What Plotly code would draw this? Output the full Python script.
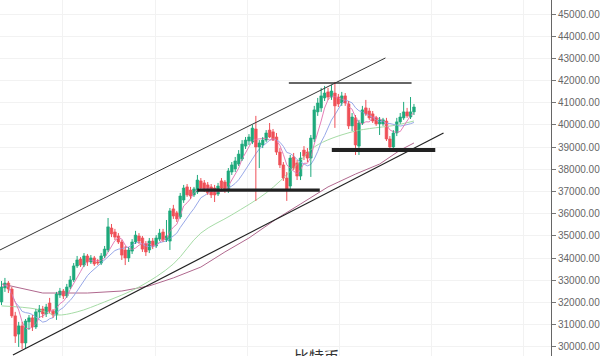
import plotly.graph_objects as go
import pandas as pd

# ---- candle data (index = bar number) ----
opens = [32030,32660,32880,32610,31400,30580,30950,30180,31130,31310,
         30900,31580,31710,31490,31980,31620,31440,32340,32520,32300,
         32700,33020,33650,33960,33690,34100,33830,34010,33830,33780,
         34100,34370,35360,35180,35000,34730,34370,34010,34320,34730,
         35000,34910,34640,34370,34770,34550,34860,35180,34820,34770,
         36220,36040,35860,36620,37210,37070,36850,36980,37480,37390,
         37300,37210,37160,36890,37480,37430,37070,37880,38020,38240,
         38470,39050,39280,39230,39820,39010,39100,39320,39770,39690,
         39460,38780,38200,37610,37250,38560,38290,37700,38870,38780,
         38510,39370,40590,40770,41220,41490,41260,41440,41260,40990,
         41310,40950,39960,40320,39050,40090,40770,40630,40500,40320,
         40050,40050,40180,39370,39010,39640,40140,40320,40590,40360,
         40590]
highs = [32970,33110,32970,32700,31580,31130,31130,31260,31440,31440,
         31710,31890,31850,31940,32210,31710,32480,32660,32610,32840,
         33200,33780,34100,34050,34230,34190,34140,34100,33960,34230,
         34550,35810,35540,35320,35130,34820,34550,34500,34860,35230,
         35130,35000,34770,34910,34910,35040,35320,35320,35720,36260,
         36400,36130,36940,37300,37340,37210,37210,37750,37610,37520,
         37430,37340,37300,37390,37610,37520,38060,38330,38560,38870,
         39320,39460,39590,40000,40410,39320,39460,39770,40090,39820,
         39640,38960,38330,37880,38650,38740,38420,38780,39050,38960,
         39550,40860,41220,41670,41760,41670,41800,41940,41400,41490,
         41440,41080,40540,40450,40230,40860,41130,40770,40630,40410,
         40360,40320,40320,39500,39770,40320,40540,41040,40770,41260,
         40950]
lows = [31890,32480,32430,31310,30180,30000,29910,29950,30770,30720,
        30810,31310,31310,31350,31530,31310,31220,32210,32160,32210,
        32610,32930,33560,33600,33600,33650,33740,33650,33690,33690,
        34010,34280,34950,34820,34640,33920,33690,33830,34190,34640,
        34640,34280,34100,34230,34410,34460,34770,34730,34730,34370,
        35770,35630,35770,36490,36760,36670,36760,36890,37070,36980,
        36850,36710,36530,36800,37070,36940,36940,37750,37880,38150,
        38380,38920,39100,39140,36580,38060,38960,39230,39410,39280,
        38650,38060,37480,36580,37070,37970,37520,37520,38420,38330,
        37660,39230,40410,40590,41080,41130,41130,39870,40810,40860,
        40860,39820,39730,38650,38650,40000,40410,40230,40090,39960,
        39550,39960,39280,38920,38830,39500,40050,40230,40320,40270,
        40450]
closes = [32700,32880,32610,31400,30490,30950,30180,31170,31310,30900,
          31580,31710,31490,31800,31620,31440,32390,32520,32300,32700,
          33020,33650,33920,33690,34100,33830,34010,33740,33780,34100,
          34410,35410,35090,34950,34730,34140,34010,34370,34730,35040,
          34770,34410,34280,34770,34550,34910,35130,34820,35000,36130,
          35900,35770,36800,37160,36850,36800,37120,37520,37160,37070,
          36940,36850,36850,37250,37160,37070,37930,38200,38380,38690,
          39140,39320,39460,39860,39010,39190,39320,39640,39460,39320,
          38780,38200,37610,37120,38510,38060,37700,38510,38600,38510,
          39410,40680,40990,41310,41440,41260,41530,40860,40950,41310,
          40990,39960,40360,39100,40090,40680,40500,40320,40180,40050,
          40230,40230,39370,39010,39640,40140,40360,40590,40410,40590,
          40810]
bars = list(range(len(closes)))

# ---- slow moving averages (bar index, price) ----
ma30_x = [0, 10, 16, 22, 30, 40, 50, 58, 67, 77, 85, 91, 102, 115, 120]
ma30_y = [31850, 31710, 31440, 31580, 32030, 32700, 33740, 35130, 35950,
          36940, 38060, 39010, 39690, 40000, 40180]
ma60_x = [0, 12, 25, 35, 43, 50, 58, 65, 72, 80, 87, 95, 103, 110, 116, 120]
ma60_y = [32840, 32430, 32430, 32520, 32750, 33110, 33600, 34280, 34910,
          35770, 36440, 37210, 37790, 38240, 38870, 39190]

# ---- drawn trend lines (bar index, price) ----
chan_up_x, chan_up_y = [-0.43, 111.7], [34370, 43020]
chan_lo_x, chan_lo_y = [3.33, 128.6], [29640, 39640]
res_x, res_y = [83.6, 119.3], [41890, 41890]
sup1_x, sup1_y = [56.96, 92.6], [37070, 37070]
sup2_x, sup2_y = [96.1, 126.2], [38870, 38870]

y_ticks = list(range(30000, 46000, 1000))

UP, DOWN = "#1ea97c", "#ef5058"

cs = pd.Series(closes)
ma5 = cs.rolling(5, min_periods=1).mean()
ma10 = cs.rolling(10, min_periods=1).mean()

fig = go.Figure()
fig.add_trace(go.Scatter(x=ma60_x, y=ma60_y, mode="lines",
                         line=dict(color="#b0688e", width=1), hoverinfo="skip"))
fig.add_trace(go.Scatter(x=ma30_x, y=ma30_y, mode="lines", line_shape="spline",
                         line=dict(color="#a6dca6", width=1), hoverinfo="skip"))
fig.add_trace(go.Scatter(x=bars, y=ma10, mode="lines",
                         line=dict(color="#98a8e8", width=1), hoverinfo="skip"))
fig.add_trace(go.Scatter(x=bars, y=ma5, mode="lines",
                         line=dict(color="#e57fb8", width=1), hoverinfo="skip"))

# candles: wicks + bodies
for is_up, col in [(True, UP), (False, DOWN)]:
    idx = [i for i in bars if (closes[i] >= opens[i]) == is_up]
    wx, wy = [], []
    for i in idx:
        wx += [i, i, None]
        wy += [lows[i], highs[i], None]
    fig.add_trace(go.Scatter(x=wx, y=wy, mode="lines",
                             line=dict(color=col, width=1), hoverinfo="skip"))
    fig.add_trace(go.Bar(
        x=idx,
        base=[min(opens[i], closes[i]) for i in idx],
        y=[abs(closes[i] - opens[i]) for i in idx],
        width=0.78, marker=dict(color=col, line=dict(color=col, width=0.6)),
        hoverinfo="skip"))

for xs, ys, w, c in [(chan_up_x, chan_up_y, 1, "#333333"),
                     (chan_lo_x, chan_lo_y, 1.2, "#222222"),
                     (res_x, res_y, 1.6, "#333333"),
                     (sup1_x, sup1_y, 3.2, "#222222"),
                     (sup2_x, sup2_y, 4, "#222222")]:
    fig.add_trace(go.Scatter(x=xs, y=ys, mode="lines",
                             line=dict(color=c, width=w), hoverinfo="skip"))

fig.update_layout(
    width=600, height=356,
    margin=dict(l=0, r=47, t=0, b=0),
    paper_bgcolor="white", plot_bgcolor="white",
    showlegend=False, barmode="overlay",
    font=dict(family="Liberation Sans, Arial, sans-serif"),
    annotations=[dict(text="比特币", x=0.575, y=1 - 343 / 356,
                      xref="paper", yref="paper", xanchor="center", yanchor="top",
                      showarrow=False,
                      font=dict(family="Noto Sans CJK SC", size=15, color="#333"))],
)
fig.update_xaxes(range=[-0.435, 159.87],
                 showticklabels=False, zeroline=False, showline=False,
                 tickvals=[17.8, 44.7, 71.5, 98.4, 125.2, 152.0],
                 showgrid=True, gridcolor="#f2f2f2", gridwidth=1)
fig.update_yaxes(side="right", range=[29593, 45631], tickvals=y_ticks,
                 tickformat=".2f", ticks="outside", ticklen=4, tickcolor="#777",
                 showline=True, linecolor="#666", linewidth=1,
                 showgrid=True, gridcolor="#f2f2f2", zeroline=False,
                 tickfont=dict(size=10, color="#666"))

fig.write_html("out.html")
